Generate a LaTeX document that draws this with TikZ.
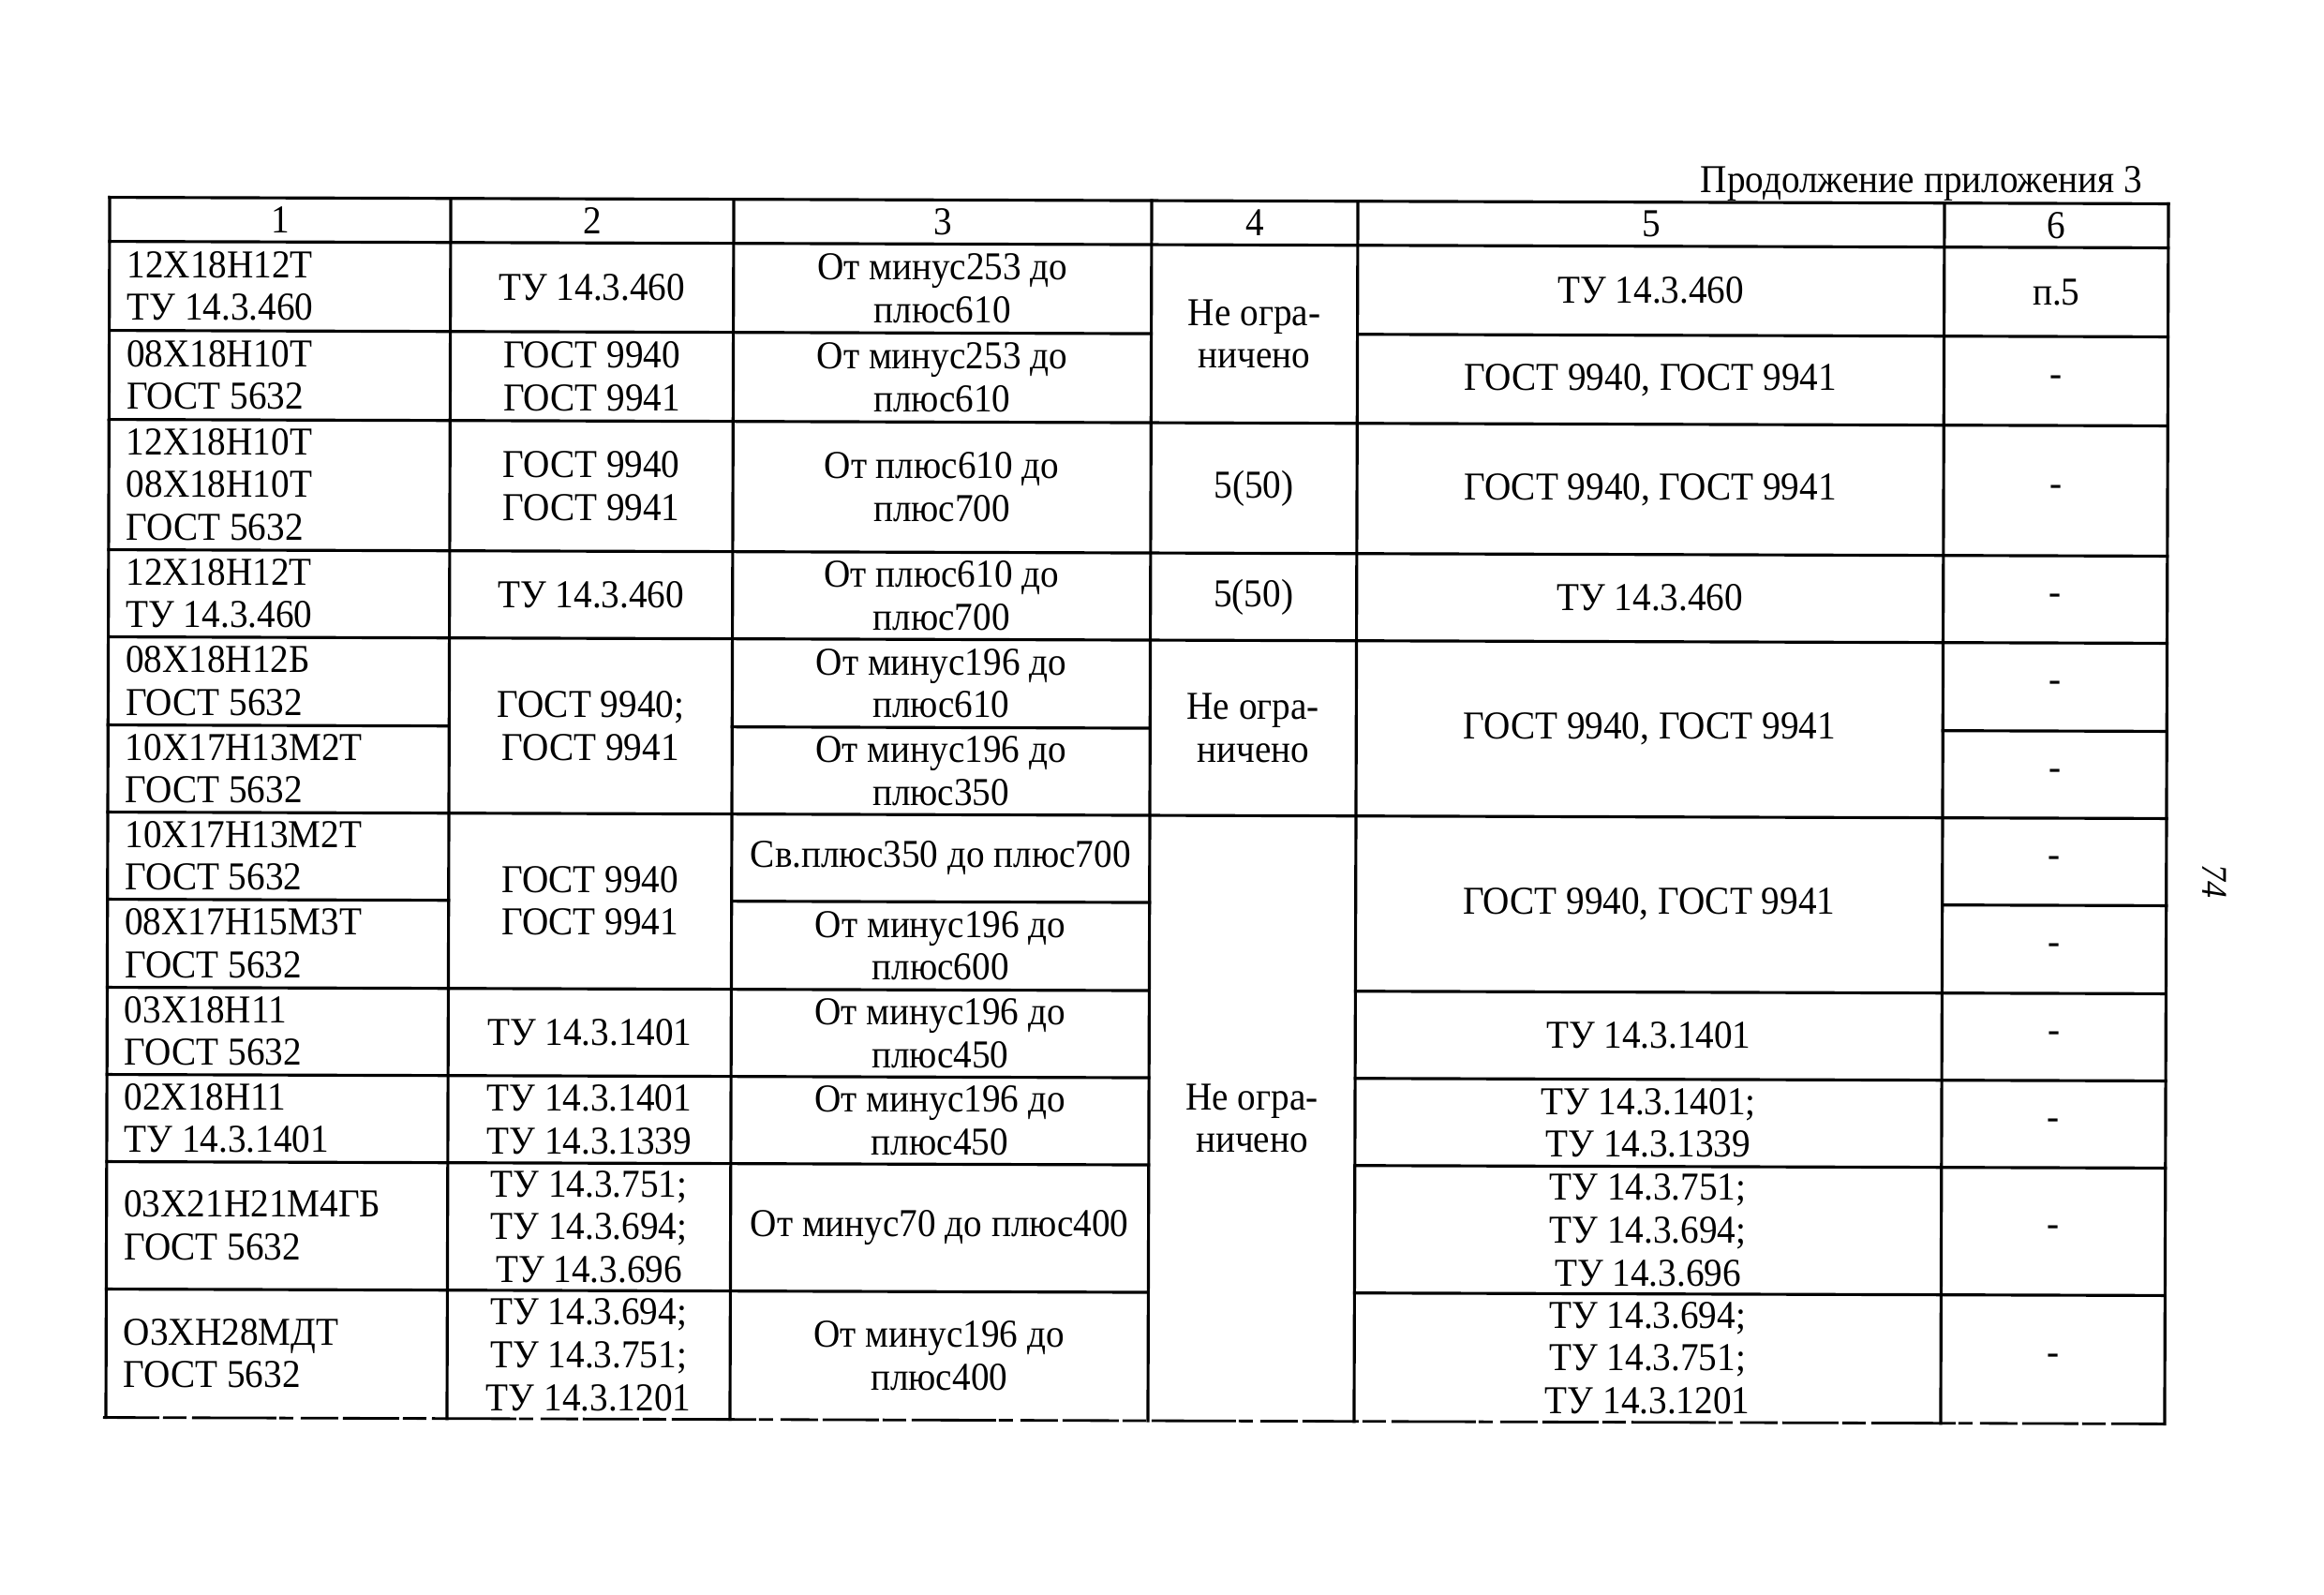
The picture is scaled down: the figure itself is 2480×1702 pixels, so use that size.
\documentclass[tikz,border=0pt]{standalone}
\usepackage{fontspec}
\setmainfont[FakeStretch=0.93]{Liberation Serif}
\begin{document}
\begin{tikzpicture}[x=0.1mm,y=-0.1mm,
  grid/.style={line width=0.9pt, line cap=rect},
  bottomline/.style={line width=0.8pt, dash pattern=on 6mm off .4mm on 2.5mm off .6mm on 9mm off .3mm on 1.5mm off .8mm on 4mm off .5mm},
  txt/.style={inner sep=0pt, align=center, font=\fontsize{12}{13}\selectfont},
  ltxt/.style={txt, align=left, anchor=west}]
\fill[white] (0,0) rectangle (2480,1702);
\useasboundingbox (0,0) rectangle (2480,1702);
\node[txt, anchor=base east] (title) at (2287,206) {Продолжение приложения 3};
\node[txt, rotate=-90, font=\fontsize{11}{12}\selectfont\itshape] (pg) at (2363,940) {74};
\begin{scope}[rotate around={-0.18:(1213,865)}]
% horizontal lines
\draw[grid] (115,214) -- (2312,214);
\draw[grid] (115,261) -- (2312,261);
\draw[grid] (115,356) -- (1227,356) (1447,356) -- (2312,356);
\draw[grid] (115,451) -- (2312,451);
\draw[grid] (115,590) -- (2312,590);
\draw[grid] (115,683) -- (2312,683);
\draw[grid] (115,777) -- (479,777) (781,777) -- (1227,777) (2073,777) -- (2312,777);
\draw[grid] (115,870) -- (2312,870);
\draw[grid] (115,963) -- (479,963) (781,963) -- (1227,963) (2073,963) -- (2312,963);
\draw[grid] (115,1057) -- (1227,1057) (1447,1057) -- (2312,1057);
\draw[grid] (115,1150) -- (1227,1150) (1447,1150) -- (2312,1150);
\draw[grid] (115,1243) -- (1227,1243) (1447,1243) -- (2312,1243);
\draw[grid] (115,1379) -- (1227,1379) (1447,1379) -- (2312,1379);
\draw[bottomline] (112,1516) -- (2312,1516);
% vertical lines
\foreach \x in {115,479,781,1227,1447,2073,2312}
  \draw[grid] (\x,214) -- (\x,1516);
% header
\node[txt] (hd1) at (297,237.5) {1};
\node[txt] (hd2) at (630,237.5) {2};
\node[txt] (hd3) at (1004,237.5) {3};
\node[txt] (hd4) at (1337,237.5) {4};
\node[txt] (hd5) at (1760,237.5) {5};
\node[txt] (hd6) at (2192.5,237.5) {6};
% row A
\node[ltxt] (a1) at (133,308.5) {12Х18Н12Т\\ТУ 14.3.460};
\node[txt] (a2) at (630,308.5) {ТУ 14.3.460};
\node[txt] (a3) at (1004,308.5) {От минус253 до\\плюс610};
\node[txt] (ab4) at (1337,356) {Не огра-\\ничено};
\node[txt] (a5) at (1760,308.5) {ТУ 14.3.460};
\node[txt] (a6) at (2192.5,308.5) {п.5};
% row B
\node[ltxt] (b1) at (133,403.5) {08Х18Н10Т\\ГОСТ 5632};
\node[txt] (b2) at (630,403.5) {ГОСТ 9940\\ГОСТ 9941};
\node[txt] (b3) at (1004,403.5) {От минус253 до\\плюс610};
\node[txt] (b5) at (1760,403.5) {ГОСТ 9940, ГОСТ 9941};
\node[txt] (b6) at (2192.5,403.5) {-};
% row C
\node[ltxt] (c1) at (133,520.5) {12Х18Н10Т\\08Х18Н10Т\\ГОСТ 5632};
\node[txt] (c2) at (630,520.5) {ГОСТ 9940\\ГОСТ 9941};
\node[txt] (c3) at (1004,520.5) {От плюс610 до\\плюс700};
\node[txt] (c4) at (1337,520.5) {5(50)};
\node[txt] (c5) at (1760,520.5) {ГОСТ 9940, ГОСТ 9941};
\node[txt] (c6) at (2192.5,520.5) {-};
% row D
\node[ltxt] (d1) at (133,636.5) {12Х18Н12Т\\ТУ 14.3.460};
\node[txt] (d2) at (630,636.5) {ТУ 14.3.460};
\node[txt] (d3) at (1004,636.5) {От плюс610 до\\плюс700};
\node[txt] (d4) at (1337,636.5) {5(50)};
\node[txt] (d5) at (1760,636.5) {ТУ 14.3.460};
\node[txt] (d6) at (2192.5,636.5) {-};
% rows E-F
\node[ltxt] (e1) at (133,730) {08Х18Н12Б\\ГОСТ 5632};
\node[txt] (ef2) at (630,776.5) {ГОСТ 9940;\\ГОСТ 9941};
\node[txt] (e3) at (1004,730) {От минус196 до\\плюс610};
\node[txt] (ef4) at (1337,776.5) {Не огра-\\ничено};
\node[txt] (ef5) at (1760,776.5) {ГОСТ 9940, ГОСТ 9941};
\node[txt] (e6) at (2192.5,730) {-};
\node[ltxt] (f1) at (133,823.5) {10Х17Н13М2Т\\ГОСТ 5632};
\node[txt] (f3) at (1004,823.5) {От минус196 до\\плюс350};
\node[txt] (f6) at (2192.5,823.5) {-};
% rows G-H
\node[ltxt] (g1) at (133,916.5) {10Х17Н13М2Т\\ГОСТ 5632};
\node[txt] (gh2) at (630,963) {ГОСТ 9940\\ГОСТ 9941};
\node[txt] (g3) at (1004,916.5) {Св.плюс350 до плюс700};
\node[txt] (gl4) at (1337,1193) {Не огра-\\ничено};
\node[txt] (gh5) at (1760,963) {ГОСТ 9940, ГОСТ 9941};
\node[txt] (g6) at (2192.5,916.5) {-};
\node[ltxt] (h1) at (133,1010) {08Х17Н15М3Т\\ГОСТ 5632};
\node[txt] (h3) at (1004,1010) {От минус196 до\\плюс600};
\node[txt] (h6) at (2192.5,1010) {-};
% row I
\node[ltxt] (i1) at (133,1103.5) {03Х18Н11\\ГОСТ 5632};
\node[txt] (i2) at (630,1103.5) {ТУ 14.3.1401};
\node[txt] (i3) at (1004,1103.5) {От минус196 до\\плюс450};
\node[txt] (i5) at (1760,1103.5) {ТУ 14.3.1401};
\node[txt] (i6) at (2192.5,1103.5) {-};
% row J
\node[ltxt] (j1) at (133,1196.5) {02Х18Н11\\ТУ 14.3.1401};
\node[txt] (j2) at (630,1196.5) {ТУ 14.3.1401\\ТУ 14.3.1339};
\node[txt] (j3) at (1004,1196.5) {От минус196 до\\плюс450};
\node[txt] (j5) at (1760,1196.5) {ТУ 14.3.1401;\\ТУ 14.3.1339};
\node[txt] (j6) at (2192.5,1196.5) {-};
% row K
\node[ltxt] (k1) at (133,1311) {03Х21Н21М4ГБ\\ГОСТ 5632};
\node[txt] (k2) at (630,1311) {ТУ 14.3.751;\\ТУ 14.3.694;\\ТУ 14.3.696};
\node[txt] (k3) at (1004,1311) {От минус70 до плюс400};
\node[txt] (k5) at (1760,1311) {ТУ 14.3.751;\\ТУ 14.3.694;\\ТУ 14.3.696};
\node[txt] (k6) at (2192.5,1311) {-};
% row L
\node[ltxt] (l1) at (133,1447.5) {О3ХН28МДТ\\ГОСТ 5632};
\node[txt] (l2) at (630,1447.5) {ТУ 14.3.694;\\ТУ 14.3.751;\\ТУ 14.3.1201};
\node[txt] (l3) at (1004,1447.5) {От минус196 до\\плюс400};
\node[txt] (l5) at (1760,1447.5) {ТУ 14.3.694;\\ТУ 14.3.751;\\ТУ 14.3.1201};
\node[txt] (l6) at (2192.5,1447.5) {-};
\end{scope}
\end{tikzpicture}
\end{document}
